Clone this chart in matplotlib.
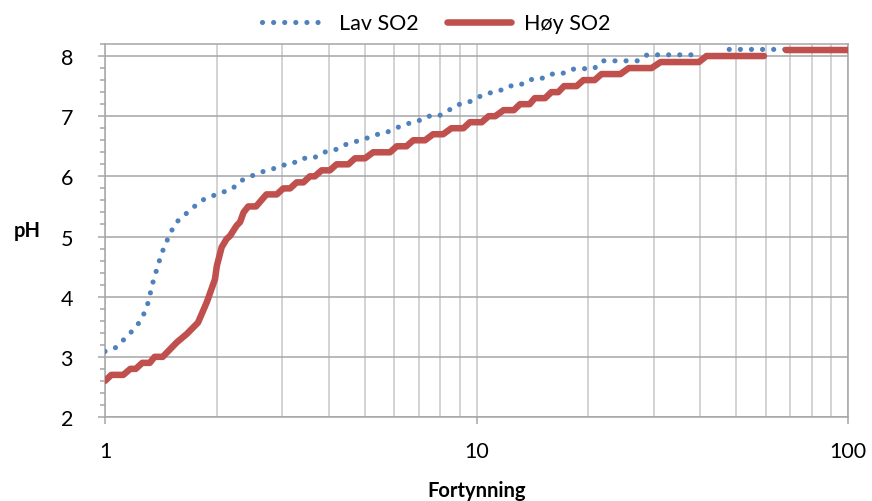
import numpy as np
import matplotlib
matplotlib.use('Agg')
from matplotlib import pyplot as plt
from matplotlib.ticker import MultipleLocator, FixedLocator, NullFormatter

plt.rcParams['font.family'] = ['Lato', 'DejaVu Sans']

# fortynning (x) og pH (y), lest av figuren
lav_x = [1.0, 1.066, 1.125, 1.184, 1.24, 1.281, 1.311, 1.332, 1.357, 1.386, 1.415,
         1.453, 1.499, 1.546, 1.632, 1.726, 1.82, 1.937, 2.06, 2.2, 2.31, 2.467,
         2.625, 2.798, 2.977, 3.193, 3.384, 3.637, 3.869, 4.134, 4.399, 4.68, 5.0,
         5.33, 5.68, 6.06, 6.46, 6.93, 7.34, 7.89, 8.38, 8.88, 9.45, 10.05, 10.7,
         11.45, 12.18, 13.04, 13.87, 14.8, 15.75, 16.9, 18.0, 19.3, 20.7, 21.9,
         27.2, 28.8, 38.6, np.nan, 47.9, 100]
lav_y = [3.09, 3.15, 3.29, 3.43, 3.58, 3.75, 3.93, 4.13, 4.32, 4.5, 4.69,
         4.87, 5.05, 5.22, 5.35, 5.48, 5.6, 5.67, 5.73, 5.79, 5.92, 6.0,
         6.07, 6.11, 6.18, 6.21, 6.3, 6.3, 6.4, 6.43, 6.52, 6.57, 6.62,
         6.69, 6.72, 6.8, 6.87, 6.91, 7.0, 7.0, 7.09, 7.19, 7.22, 7.31, 7.38,
         7.41, 7.5, 7.51, 7.61, 7.61, 7.7, 7.7, 7.78, 7.79, 7.79, 7.92,
         7.92, 8.02, 8.02, np.nan, 8.11, 8.11]

hoy_x = [1.0, 1.04, 1.12, 1.17, 1.21, 1.26, 1.32, 1.36, 1.43, 1.56, 1.66, 1.78,
         1.88, 1.92, 1.977, 2.0, 2.06, 2.125, 2.17, 2.26, 2.31, 2.36, 2.43, 2.55,
         2.72, 2.9, 3.02, 3.15, 3.28, 3.42, 3.56, 3.67, 3.83, 4.03, 4.2, 4.52,
         4.71, 5.01, 5.27, 5.85, 6.1, 6.48, 6.76, 7.27, 7.64, 8.13, 8.56, 9.22,
         9.6, 10.33, 10.78, 11.23, 11.83, 12.6, 13.1, 13.9, 14.35, 15.3, 15.9,
         16.6, 17.2, 18.6, 19.4, 20.8, 21.7, 24.4, 25.7, 29.6, 31.3, 39.7, 41.6,
         59.4, np.nan, 68.1, 100]
hoy_y = [2.6, 2.7, 2.7, 2.8, 2.8, 2.9, 2.9, 3.0, 3.0, 3.24, 3.38, 3.57,
         3.91, 4.07, 4.29, 4.51, 4.82, 4.96, 5.01, 5.18, 5.24, 5.4, 5.5, 5.5,
         5.7, 5.7, 5.8, 5.8, 5.9, 5.9, 6.0, 6.0, 6.1, 6.1, 6.2, 6.2,
         6.3, 6.3, 6.4, 6.4, 6.5, 6.5, 6.6, 6.6, 6.7, 6.7, 6.8, 6.8,
         6.9, 6.9, 7.0, 7.0, 7.1, 7.1, 7.2, 7.2, 7.3, 7.3, 7.4,
         7.4, 7.5, 7.5, 7.6, 7.6, 7.7, 7.7, 7.8, 7.8, 7.9, 7.9, 8.0,
         8.0, np.nan, 8.1, 8.1]

x_ticks = [1, 10, 100]
y_ticks = [2, 3, 4, 5, 6, 7, 8]

blue = '#4F81BD'
red = '#C0504D'

fig = plt.figure(figsize=(8.72, 5.02), dpi=100)
ax = fig.add_axes([105 / 872, 1 - 418 / 502, 743 / 872, 373 / 502])

ax.plot(lav_x, lav_y, color=blue, linewidth=3.7, linestyle=(0, (0.01, 2.15)),
        dash_capstyle='round', label='Lav SO2', zorder=3)
ax.plot(hoy_x, hoy_y, color=red, linewidth=4.7, solid_capstyle='round',
        solid_joinstyle='round', label='Høy SO2', zorder=4)

ax.set_xscale('log')
ax.set_xlim(1, 100)
ax.set_ylim(2, 8.2)
ax.xaxis.set_major_locator(FixedLocator(x_ticks))
ax.set_xticklabels([str(t) for t in x_ticks])
ax.xaxis.set_minor_locator(FixedLocator([m * d for d in (1, 10) for m in range(2, 10)]))
ax.xaxis.set_minor_formatter(NullFormatter())
ax.yaxis.set_major_locator(FixedLocator(y_ticks))
ax.yaxis.set_minor_locator(MultipleLocator(0.2))

ax.grid(True, axis='x', which='both', color='#C8C8C8', linewidth=1.1, zorder=0)
ax.grid(True, axis='y', which='major', color='#A6A6A6', linewidth=1.1, zorder=0)
ax.set_axisbelow(True)
for s in ax.spines.values():
    s.set_color('#A6A6A6')
    s.set_linewidth(1.1)

ax.tick_params(axis='both', which='major', length=5, width=1.1, color='#A6A6A6',
               labelsize=15.5)
ax.tick_params(axis='y', which='minor', length=3.5, width=1.1, color='#A6A6A6')
ax.tick_params(axis='x', which='minor', length=0)
ax.tick_params(axis='y', pad=18)
ax.tick_params(axis='x', pad=12)

ax.set_xlabel('Fortynning', fontsize=14.5, fontweight='bold', labelpad=14)
ax.set_ylabel('pH', fontsize=14.5, fontweight='bold', rotation=0, labelpad=24, va='center')

fig.legend(loc='upper center', bbox_to_anchor=(0.5, 1.01), ncol=2, frameon=False,
           fontsize=15.5, handlelength=3.0, columnspacing=1.3, handletextpad=0.6)

fig.savefig('out.png', dpi=100)
